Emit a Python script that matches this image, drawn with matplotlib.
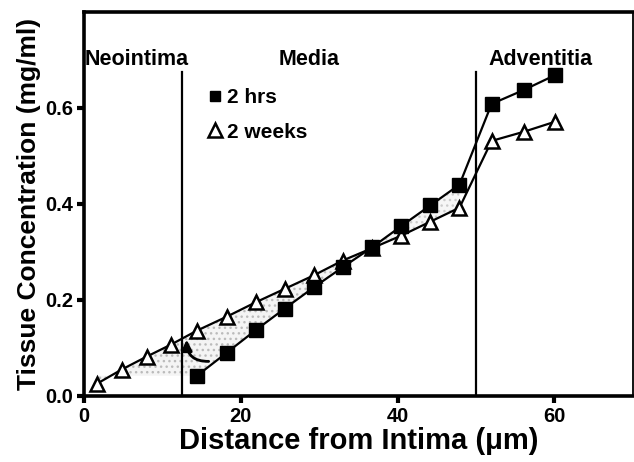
import numpy as np
import matplotlib
matplotlib.use("Agg")
import matplotlib.pyplot as plt

# distance from intima (um) and tissue concentration (mg/ml)
weeks_x = [1.6, 4.8, 8.0, 11.1, 14.4, 18.2, 21.9, 25.6, 29.3, 33.0, 36.8, 40.5, 44.2, 47.9, 52.0, 56.1, 60.1]
weeks_y = [0.025, 0.055, 0.082, 0.107, 0.136, 0.165, 0.195, 0.223, 0.251, 0.282, 0.308, 0.334, 0.363, 0.392, 0.531, 0.550, 0.571]

hrs_x = [14.4, 18.2, 21.9, 25.6, 29.3, 33.0, 36.8, 40.5, 44.2, 47.9, 52.0, 56.1, 60.1]
hrs_y = [0.042, 0.090, 0.137, 0.182, 0.226, 0.268, 0.310, 0.354, 0.397, 0.440, 0.608, 0.637, 0.668]

boundaries = [12.5, 50]
boundary_top = 0.675
regions = ["Neointima", "Media", "Adventitia"]
region_x = [6.7, 28.7, 58.3]
region_y = 0.70

xticks = [0, 20, 40, 60]
yticks = [0.0, 0.2, 0.4, 0.6]

plt.rcParams['font.family'] = ['Liberation Sans', 'DejaVu Sans']
plt.rcParams['font.weight'] = 'bold'

fig = plt.figure(figsize=(6.34, 4.62), dpi=100)
ax = fig.add_axes([0.1325, 0.1429, 0.8655, 0.8318])

# shaded area between the two profiles
wx = np.array(weeks_x)
wy = np.array(weeks_y)
lower = np.interp(wx, hrs_x, hrs_y)
n = 11
ax.fill_between(wx[:n], lower[:n], wy[:n], facecolor='#f4f4f4', edgecolor='#bbbbbb',
                hatch='...', linewidth=0, zorder=1)
ax.fill_between(wx[10:14], wy[10:14], lower[10:14], facecolor='#f6f6f6', edgecolor='#cccccc',
                hatch='...', linewidth=0, zorder=1)

for b in boundaries:
  ax.plot([b, b], [0, boundary_top], color='black', lw=1.6, zorder=2)

ax.plot(hrs_x, hrs_y, color='black', lw=1.6, marker='s', ms=9.5,
        mfc='black', mec='black', zorder=4, label='2 hrs')
ax.plot(weeks_x, weeks_y, color='black', lw=1.6, marker='^', ms=10.5,
        mfc='white', mec='black', mew=1.8, zorder=3, label='2 weeks')

ax.annotate('', xy=(13.1, 0.117), xytext=(15.9, 0.072), zorder=5,
            arrowprops=dict(arrowstyle='-|>', color='black', lw=2,
                            mutation_scale=16, shrinkA=0, shrinkB=0,
                            connectionstyle='arc3,rad=-0.5'))

for name, x in zip(regions, region_x):
  ax.text(x, region_y, name, ha='center', va='center', fontsize=15.5, fontweight='bold')

# legend markers are drawn a bit smaller than the data markers
sq = matplotlib.lines.Line2D([], [], linestyle='none', marker='s', ms=7.5, mfc='black', mec='black')
tri = matplotlib.lines.Line2D([], [], linestyle='none', marker='^', ms=10, mfc='white', mec='black', mew=1.8)
ax.legend([sq, tri], ['2 hrs', '2 weeks'], loc='upper left', bbox_to_anchor=(0.19, 0.85),
          frameon=False, handlelength=0.8, handletextpad=0.15, labelspacing=0.75,
          prop={'size': 15, 'weight': 'bold'})

ax.set_xlim(0, 70)
ax.set_ylim(0, 0.8)
ax.set_xticks(xticks)
ax.set_yticks(yticks)
ax.set_xticklabels([str(t) for t in xticks])
ax.set_yticklabels(['%.1f' % t for t in yticks])
ax.tick_params(direction='out', length=5, width=3, labelsize=14.5, pad=3)

for s in ['left', 'bottom', 'top']:
  ax.spines[s].set_linewidth(2.6)
ax.spines['right'].set_linewidth(1.3)

ax.set_xlabel('Distance from Intima (\u03bcm)', fontsize=21, fontweight='bold', labelpad=1)
ax.set_ylabel('Tissue Concentration (mg/ml)', fontsize=19, fontweight='bold', labelpad=3)

fig.savefig('out.png', dpi=100)
